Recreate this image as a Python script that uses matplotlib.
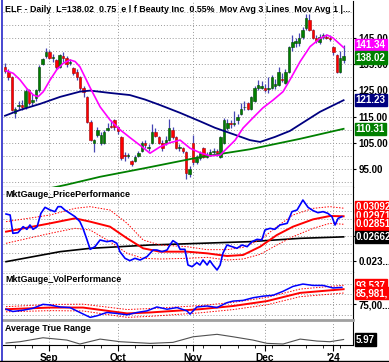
import numpy as np
import matplotlib
matplotlib.use("Agg")
import matplotlib.pyplot as plt
from matplotlib.lines import Line2D
import matplotlib.transforms as mtransforms

plt.rcParams['font.family'] = ['Liberation Sans', 'DejaVu Sans']

# ---------------- data ----------------
# daily candles, Aug 15 2023 .. Jan 5 2024 (bar index 0..99)
opens = [134, 132, 130, 116.5, 119, 119.5, 118.6, 125, 120.5, 122,
         125, 135, 138, 139.5, 137.5, 136.5, 134, 138, 137.5, 135.5,
         133.5, 132, 130, 126, 122.5, 113, 105, 108, 105, 105,
         110, 111.5, 113.7, 111, 107, 100.5, 100, 98, 98, 100,
         102, 105, 103, 105, 109, 107, 105, 105, 106, 110,
         107, 103, 103, 101.5, 93, 105, 97.5, 99, 103, 99.6,
         100.5, 101.5, 102, 99.5, 105, 110.7, 112.5, 112, 113.5, 116,
         118.5, 120, 118, 121, 126, 126, 126, 125.5, 126, 126.5,
         127, 129.5, 127.8, 132, 141.5, 143, 143, 145.4, 148.8, 152,
         148, 145, 143.5, 145.4, 145.5, 145, 141.6, 138.5, 132, 136.5]
closes = [132.5, 130, 117.5, 118, 119.5, 118.5, 124.8, 120, 121.5, 125,
          134, 137, 139.5, 137.5, 137.8, 134, 138.5, 137.5, 135, 135.8,
          131.5, 130, 126, 124.5, 113, 106, 106, 110, 108, 109,
          110.8, 111, 111, 109.5, 99, 100, 100.3, 97, 99.6, 101,
          105, 104, 103.5, 109, 107.5, 105, 103, 106, 110.7, 107,
          103, 103.3, 102, 93.5, 95, 97.5, 99, 101, 99.6, 100.5,
          101.5, 102, 101, 107, 113.7, 112.5, 112, 112.5, 115, 118,
          118.7, 118, 122.5, 126, 127, 126.5, 125, 126, 130, 127.5,
          132, 129, 132, 141.5, 143.5, 143.8, 145, 148, 152.6, 148,
          145, 144, 145.4, 146, 145, 144.6, 139.7, 132, 137.3, 138.02]
highs = [135.5, 133, 130.5, 118.5, 121, 121.5, 125.5, 125.5, 123.5, 125.5,
         134.5, 137.5, 141, 140.5, 139, 137, 139, 139.5, 138, 137,
         134, 133, 130.5, 126.5, 123, 113.5, 106.5, 111, 109, 110,
         112.5, 113.5, 114.2, 111.5, 107.5, 101.5, 101, 98.5, 100.5, 102,
         105.5, 106, 104.5, 112, 110.5, 107.5, 106, 107.5, 114, 111,
         107.5, 104.5, 103.5, 102, 96, 108, 100.5, 102, 103.5, 101.5,
         102.5, 103, 102.5, 107.5, 114.5, 114, 113.5, 117, 116, 120,
         121, 120.5, 123, 126.5, 129, 128.5, 127.5, 130, 131, 129.5,
         134, 131.5, 133, 142, 146, 145, 147, 149, 154, 154,
         148.5, 146, 146.5, 147, 146.5, 146, 142, 139, 140, 142.3]
lows = [131.5, 129, 117, 114.5, 118, 117.5, 118, 119.5, 119, 121,
        124.5, 134.5, 137.5, 137, 136, 133, 133.5, 136, 134, 134.5,
        131, 129, 125, 122.5, 112.5, 105.5, 101.5, 107, 104, 104.5,
        109.5, 110.5, 110, 108.5, 98.5, 98, 99, 96, 97.5, 99.5,
        101.5, 103, 102, 104.5, 107, 104.5, 102, 104, 105.5, 106.5,
        102.5, 102, 101, 91, 92, 96.5, 97, 98.5, 99, 99,
        100, 100.5, 100, 99, 104.5, 110, 110.5, 111.5, 112, 115.5,
        117.5, 117.5, 117.5, 120.5, 125, 125.5, 124.5, 124, 125.5, 125.5,
        126.5, 128, 127.5, 131.5, 140, 141.5, 142, 144.5, 148, 147.5,
        144.5, 143, 142.5, 144.5, 144.5, 144, 138.5, 131.5, 131.5, 135.5]

# moving averages (bar position, value)
ma_fast_t = [0.3, 2.4, 4.4, 6.3, 8.3, 9.7, 11.2, 13.2, 15.1, 17.0, 19.0, 20.5,
             21.9, 24.9, 27.8, 30.7, 33.6, 36.5, 39.5, 42.4, 45.3, 48.2, 51.2,
             54.1, 57.0, 59.9, 62.9, 67.3, 69.6, 72.5, 75.4, 78.4, 81.3, 83.3,
             86.3, 89.2, 92.1, 94.2, 95.9, 99.0]
ma_fast_v = [132.5, 131.5, 129, 125.8, 123.2, 122.6, 124.5, 129, 132.8, 135.3, 136.6, 136,
             134, 126, 118.7, 113.7, 110, 107, 104, 101, 103.4, 105, 106,
             102.9, 101.2, 100, 100.3, 106, 110.6, 114.5, 118.3, 121.3, 124.5, 129,
             136, 141.7, 144.8, 146.1, 145, 141.34]
ma_mid_t = [0, 4.4, 10.2, 16.1, 21.9, 24.9, 30.7, 36.5, 40.9, 45.3, 51.2, 57.0,
            61.4, 67.3, 71.6, 74.6, 78.9, 83.3, 86.3, 92.1, 99.0]
ma_mid_v = [115.3, 117.5, 119.8, 122.5, 124.5, 124.9, 124, 123.2, 121.5, 119.4, 116.4, 113.2,
            110.7, 108, 106, 105.3, 107.2, 109.5, 112, 116.8, 121.23]
ma_slow_t = [0, 18.1, 27.8, 40.9, 57.0, 71.6, 81.9, 86.3, 99.0]
ma_slow_v = [84, 89, 92, 95.3, 99.5, 102.5, 105.3, 106.5, 110.31]

# MktGauge_PricePerformance
pp_t = [0.3, 1.5, 2.3, 3.8, 5.3, 6.4, 7.3, 8.2, 9.4, 10.5,
        11.7, 13.2, 14.6, 15.5, 16.4, 17.5, 19.0, 20.5, 21.9, 22.8,
        24.0, 24.9, 26.3, 27.8, 29.8, 31.3, 32.7, 33.6, 35.1, 36.5,
        38.0, 39.5, 41.5, 43.3, 44.4, 45.9, 47.4, 48.2, 49.1, 50.3,
        51.2, 52.6, 53.5, 54.7, 56.1, 57.0, 57.9, 59.1, 59.9, 60.8,
        62.0, 62.9, 63.7, 64.9, 66.4, 67.8, 69.3, 70.8, 72.2, 73.7,
        75.1, 76.0, 77.5, 78.9, 80.4, 82.5, 83.9, 85.4, 87.1, 88.6,
        90.1, 91.5, 93.0, 94.4, 95.6, 96.5, 97.4, 98.5]
pp_v = [0.03005, 0.0299, 0.02715, 0.02725, 0.02815, 0.02775, 0.0284, 0.02775, 0.02815, 0.03015,
        0.03105, 0.03065, 0.0304, 0.03115, 0.03115, 0.03065, 0.03015, 0.02965, 0.0289, 0.0279,
        0.02615, 0.02475, 0.02515, 0.02615, 0.0259, 0.02605, 0.02565, 0.0244, 0.0234, 0.02305,
        0.0234, 0.02315, 0.02365, 0.02465, 0.02465, 0.0244, 0.02465, 0.0254, 0.02605, 0.02565,
        0.02475, 0.02475, 0.0224, 0.02215, 0.02275, 0.0224, 0.02315, 0.0224, 0.02305, 0.0224,
        0.02165, 0.0224, 0.02415, 0.0254, 0.02515, 0.0249, 0.0254, 0.02515, 0.0259, 0.02625,
        0.02615, 0.02765, 0.0279, 0.02775, 0.0284, 0.02865, 0.0304, 0.03065, 0.03215, 0.03105,
        0.03055, 0.03025, 0.0304, 0.03015, 0.02965, 0.0284, 0.0294, 0.02965]
pp_ma_t = [0.3, 13.2, 20.5, 24.9, 30.7, 35.7, 40.4, 45.3, 53.2, 59.1, 64.9, 69.6,
           74.6, 79.5, 84.2, 90.1, 95.0, 99.0]
pp_ma_v = [0.0274, 0.02865, 0.0294, 0.0289, 0.02815, 0.0264, 0.0249, 0.0244, 0.0244, 0.02415,
           0.02375, 0.0239, 0.02515, 0.0269, 0.02815, 0.02925, 0.02975, 0.02971]
pp_up_v = [0.0289, 0.0299, 0.0309, 0.03115, 0.03065, 0.02865, 0.02615, 0.0254, 0.02515, 0.0247,
           0.0247, 0.02505, 0.02615, 0.02815, 0.0299, 0.0309, 0.03115, 0.03092]
pp_lo_v = [0.02565, 0.02715, 0.0279, 0.02765, 0.0259, 0.02415, 0.0234, 0.0233, 0.0234, 0.02355,
           0.02315, 0.0233, 0.0240, 0.0254, 0.02665, 0.0279, 0.02865, 0.02851]
pp_base_t = [0.3, 16.1, 24.9, 42.4, 57.0, 71.6, 86.3, 99.0]
pp_base_v = [0.0229, 0.0244, 0.0249, 0.0254, 0.02565, 0.0259, 0.0264, 0.02662]

# MktGauge_VolPerformance
vp_t = [0.3, 2.3, 5.3, 8.2, 11.1, 13.2, 16.1, 19.0, 21.9, 24.9,
        26.9, 29.8, 32.7, 35.7, 38.6, 41.5, 44.4, 47.4, 50.3, 53.2,
        54.1, 56.1, 59.1, 62.0, 64.9, 66.7, 69.6, 72.5, 75.4, 78.4,
        81.3, 84.2, 87.1, 90.1, 93.0, 95.9, 98.5]
vp_v = [70240, 68050, 69290, 71190, 75000, 74330, 72430, 71860, 67100, 62340,
        63860, 67100, 66150, 64810, 67100, 68620, 72430, 70240, 71860, 68620,
        65480, 72430, 73380, 71860, 76620, 78140, 78810, 81380, 82900, 83850,
        87660, 92420, 94710, 93370, 93370, 90900, 91470]
vp_ma_t = [0.3, 13.2, 22.8, 35.7, 42.4, 57.0, 66.7, 76.6, 86.3, 99.0]
vp_ma_v = [70240, 71860, 71860, 66150, 67100, 70240, 73380, 78140, 86140, 89700]
vp_up_v = [72740, 74860, 75160, 69950, 70900, 73740, 76880, 81740, 89840, 93537]
vp_lo_v = [67740, 68860, 68560, 62350, 63300, 66740, 69880, 74540, 82440, 85981]

# Average True Range
atr_t = [0.3, 4.4, 11.1, 18.1, 21.9, 27.8, 33.6, 42.4, 49.1, 55.0,
         62.0, 66.7, 72.5, 76.6, 81.3, 86.3, 91.2, 95.0, 99.0]
atr_v = [4.9, 5.3, 6.5, 5.8, 4.6, 6.1, 5.3, 4.8, 5.1, 6.8,
         7.55, 6.8, 5.8, 4.8, 4.6, 6.1, 5.5, 5.3, 5.97]

month_pos = [13, 33, 55, 76, 96]
month_lab = ['Sep', 'Oct', 'Nov', 'Dec', "'24"]

title = "ELF - Daily  L=138.02  0.75  e l f Beauty Inc  0.55%  Mov Avg 3 Lines  Mov Avg 1 |..."

# ---------------- layout ----------------
W, H = 389, 362
fig = plt.figure(figsize=(W / 100, H / 100), dpi=100)
fig.patch.set_facecolor('white')
L, R = 3, 353
XMIN, XMAX = -0.585, 101.75

GREEN = '#008000'
RED = '#ff0000'
NAVY = '#000080'
PINK = '#ff00ff'
WICK = '#4646b4'
GRID = dict(color='#9a9a9a', ls=(0, (1, 2)), lw=0.7)
TFS = 6.4


def panel(top, bottom):
    ax = fig.add_axes([L / W, 1 - bottom / H, (R - L) / W, (bottom - top) / H])
    ax.set_xlim(XMIN, XMAX)
    for s in ('top', 'left'):
        ax.spines[s].set_visible(False)
    ax.spines['right'].set_color('black')
    ax.spines['bottom'].set_color('black')
    ax.yaxis.tick_right()
    ax.tick_params(axis='y', which='both', length=2, pad=2, labelsize=7)
    ax.set_xticks(month_pos)
    ax.set_xticklabels([])
    ax.tick_params(axis='x', length=0)
    for x in month_pos:
        ax.axvline(x, zorder=0, **GRID)
    return ax


def tag(ax, y, text, color, dy=0.0):
    tr = mtransforms.blended_transform_factory(ax.transAxes, ax.transData)
    ax.text(1.008, y + dy, text, transform=tr, ha='left', va='center',
            fontsize=7, fontweight='bold', color='white', clip_on=False, zorder=10,
            bbox=dict(boxstyle='square,pad=0.12', fc=color, ec=color))


def bold_ticks(ax):
    for t in ax.get_yticklabels():
        t.set_fontweight('bold')


# price panel
ax = panel(1, 187)
ax.set_ylim(88.1, 159.1)
ax.set_yticks(np.arange(95, 150, 10))
ax.set_yticklabels(['%.2f' % v for v in np.arange(95, 150, 10)])
for v in np.arange(90, 156, 5):
    ax.axhline(v, zorder=0, **GRID)
bold_ticks(ax)
idx = np.arange(len(closes))
o = np.array(opens); c = np.array(closes)
ax.vlines(idx, lows, highs, color=WICK, lw=0.9, zorder=2)
up = c >= o
ax.bar(idx[up], (c - o)[up], bottom=o[up], width=0.72, color=GREEN,
       edgecolor='#004000', lw=0.4, zorder=3)
ax.bar(idx[~up], (c - o)[~up], bottom=o[~up], width=0.72, color=RED,
       edgecolor='#a00000', lw=0.4, zorder=3)
ax.plot(ma_slow_t, ma_slow_v, color=GREEN, lw=1.3, zorder=4)
ax.plot(ma_mid_t, ma_mid_v, color=NAVY, lw=1.3, zorder=4)
ax.plot(ma_fast_t, ma_fast_v, color=PINK, lw=1.2, zorder=4)
ax.text(0.006, 0.952, title, transform=ax.transAxes, fontsize=TFS,
        fontweight='bold', va='center', ha='left', clip_on=True)
tag(ax, ma_fast_v[-1], '%.2f' % ma_fast_v[-1], PINK, dy=1.0)
tag(ax, closes[-1], '%.2f' % closes[-1], GREEN, dy=-0.5)
tag(ax, ma_mid_v[-1], '%.2f' % ma_mid_v[-1], NAVY)
tag(ax, ma_slow_v[-1], '%.2f' % ma_slow_v[-1], GREEN)

# price performance panel
ax2 = panel(187, 272)
ax2.set_ylim(0.02135, 0.03410)
grid_pp = np.arange(0.023, 0.0335, 0.00125)
for v in grid_pp:
    ax2.axhline(v, zorder=0, **GRID)
ax2.set_yticks([0.023, 0.02675])
ax2.set_yticklabels(['0.023...', '0.026...'])
bold_ticks(ax2)
ax2.plot(pp_base_t, pp_base_v, color='black', lw=1.2, zorder=3)
ax2.plot(pp_ma_t, pp_up_v, color=RED, lw=0.7, ls=(0, (1.5, 1.5)), zorder=3)
ax2.plot(pp_ma_t, pp_lo_v, color=RED, lw=0.7, ls=(0, (1.5, 1.5)), zorder=3)
ax2.plot(pp_ma_t, pp_ma_v, color=RED, lw=1.4, zorder=4)
ax2.plot(pp_t, pp_v, color='#0000ff', lw=1.2, zorder=5)
ax2.text(0.006, 0.91, 'MktGauge_PricePerformance', transform=ax2.transAxes,
         fontsize=TFS, fontweight='bold', va='center')
tag(ax2, pp_up_v[-1], '%.5f' % pp_up_v[-1], RED, dy=0.0002)
tag(ax2, pp_ma_v[-1], '%.5f' % pp_ma_v[-1], RED)
tag(ax2, pp_lo_v[-1], '%.5f' % pp_lo_v[-1], RED)
tag(ax2, pp_base_v[-1], '%.5f' % pp_base_v[-1], 'black')

# volume performance panel
ax3 = panel(272, 320)
ax3.set_ylim(59770, 106416)
for v in [65000, 75000, 85000, 95000, 105000]:
    ax3.axhline(v, zorder=0, **GRID)
ax3.set_yticks([75000])
ax3.set_yticklabels(['75,00...'])
bold_ticks(ax3)
ax3.plot(vp_ma_t, vp_up_v, color=RED, lw=0.7, ls=(0, (1.5, 1.5)), zorder=3)
ax3.plot(vp_ma_t, vp_lo_v, color=RED, lw=0.7, ls=(0, (1.5, 1.5)), zorder=3)
ax3.plot(vp_ma_t, vp_ma_v, color=RED, lw=1.4, zorder=4)
ax3.plot(vp_t, vp_v, color='#0000ff', lw=1.1, zorder=5)
ax3.text(0.006, 0.84, 'MktGauge_VolPerformance', transform=ax3.transAxes,
         fontsize=TFS, fontweight='bold', va='center')
tag(ax3, vp_up_v[-1], '{:,}'.format(vp_up_v[-1]), RED)
tag(ax3, vp_lo_v[-1], '{:,},'.format(vp_lo_v[-1]), RED)
ax3.spines['bottom'].set_color('#a0a0a0')
ax3.spines['bottom'].set_linewidth(2)

# ATR panel
ax4 = panel(322, 345)
ax4.set_ylim(4.3, 11.3)
ax4.set_yticks([])
ax4.plot(atr_t, atr_v, color='#505050', lw=0.8, zorder=3)
ax4.text(0.006, 0.7, 'Average True Range', transform=ax4.transAxes,
         fontsize=TFS, fontweight='bold', va='center')
tag(ax4, atr_v[-1], '%.2f' % atr_v[-1], 'black')
ax4.set_xticks(month_pos)
ax4.set_xticklabels(month_lab, fontsize=7.3, fontweight='bold')
ax4.set_xticks(np.arange(3, 100, 5), minor=True)
ax4.tick_params(axis='x', which='major', length=4, pad=2, direction='out')
ax4.tick_params(axis='x', which='minor', length=2, direction='out')

# frame lines
fig.add_artist(Line2D([1.5 / W, 1.5 / W], [0, 1], color='#2828c8', lw=1.2))
fig.add_artist(Line2D([0, 1], [1 - 360.5 / H, 1 - 360.5 / H], color='black', lw=1))

fig.savefig('out.png', dpi=100)
